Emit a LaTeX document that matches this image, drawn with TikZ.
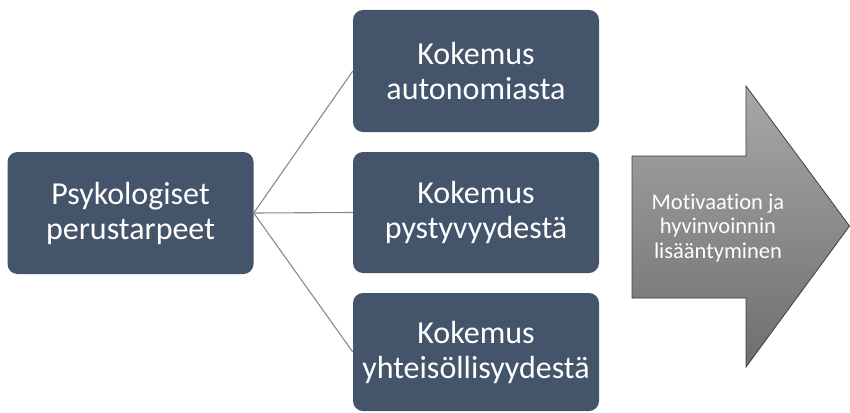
\documentclass[tikz,border=0pt]{standalone}
\usepackage{fontspec}
\setmainfont[Ligatures=NoCommon]{Carlito}
\definecolor{boxfill}{HTML}{44546A}
\definecolor{linkgray}{HTML}{8A8A8A}
\definecolor{arrowtop}{HTML}{A8A8A8}
\definecolor{arrowbot}{HTML}{6E6E6E}
\definecolor{arrowline}{HTML}{3F3F3F}
\begin{document}
\begin{tikzpicture}[x=1pt,y=-1pt,
  needbox/.style={fill=boxfill, rounded corners=10pt, minimum width=246pt, inner sep=0pt,
    text=white, align=center, font=\fontsize{32}{35}\selectfont},
  link/.style={draw=linkgray, line width=1.1pt},
  arrowtext/.style={text=white, align=center, inner sep=0pt, font=\fontsize{22.5}{24.5}\selectfont}]
\useasboundingbox (0,0) rectangle (850,412);
\node[needbox, minimum height=122pt] (perus) at (130.5,213) {Psykologiset\\perustarpeet};
\node[needbox, minimum height=122pt] (auto) at (476,71) {Kokemus\\autonomiasta};
\node[needbox, minimum height=121pt] (pysty) at (476,212.5) {Kokemus\\pystyvyydestä};
\node[needbox, minimum height=118pt] (yhteis) at (476,352) {Kokemus\\yhteisöllisyydestä};
\draw[link] (perus.east) -- (auto.west);
\draw[link] (perus.east) -- (pysty.west);
\draw[link] (perus.east) -- (yhteis.west);
\path[draw=arrowline, line width=0.8pt, top color=arrowtop, bottom color=arrowbot]
  (632,156) -- (746,156) -- (746,86) -- (849.5,226) -- (746,367) -- (746,298) -- (632,298) -- cycle;
\node[arrowtext] (tulos) at (718,228) {Motivaation ja\\hyvinvoinnin\\lisääntyminen};
\end{tikzpicture}
\end{document}
